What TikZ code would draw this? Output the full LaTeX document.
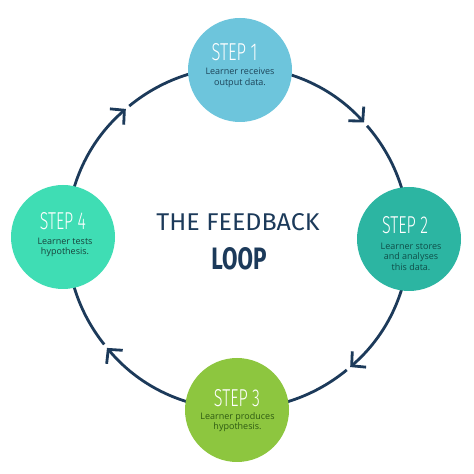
\documentclass[tikz,border=0pt]{standalone}
\usepackage{fontspec}
\usepackage{graphicx}
\setmainfont{Open Sans}
\newfontfamily\lightfont{Fira Sans Light}
\newfontfamily\regfont{Fira Sans}
\newfontfamily\heavyfont{Fira Sans Bold}
\usetikzlibrary{arrows.meta}
\definecolor{navy}{HTML}{1C3A5A}
\definecolor{cA}{HTML}{6DC5DC}
\definecolor{cB}{HTML}{2CB5A2}
\definecolor{cC}{HTML}{8DC63F}
\definecolor{cD}{HTML}{3FDDB4}
\definecolor{tA}{HTML}{1D4459}
\definecolor{tB}{HTML}{0F4E49}
\definecolor{tC}{HTML}{2E5A12}
\definecolor{tD}{HTML}{18433C}
\begin{document}
\begin{tikzpicture}[x=1pt,y=1pt,
  stepcircle/.style={circle, minimum size=104pt, inner sep=0pt},
  steplabel/.style={inner sep=0pt, text=white},
  desc/.style={inner sep=0pt, align=center, font=\fontsize{9}{10.6}\selectfont},
  titletext/.style={inner sep=0pt, text=navy},
  flow/.style={draw=navy, line width=2.8pt,
    -{Straight Barb[length=10pt,width=21pt,line join=miter]}}]
\fill[white] (0,0) rectangle (474,474);
\useasboundingbox (0,0) rectangle (474,474);
\coordinate (C) at (238,236);
% loop arcs (clockwise)
\draw[flow] (C) ++(129.5:171) arc[start angle=129.5, end angle=42.5, radius=171];
\draw[flow] (C) ++(41:171) arc[start angle=41, end angle=-49, radius=171];
\draw[flow] (C) ++(-50.5:171) arc[start angle=-50.5, end angle=-140, radius=171];
\draw[flow] (C) ++(-141.5:171) arc[start angle=-141.5, end angle=-229, radius=171];
% step circles
\node[stepcircle, fill=cA] (s1) at (240,404) {};
\node[stepcircle, fill=cB] (s2) at (409,235) {};
\node[stepcircle, fill=cC] (s3) at (237,64) {};
\node[stepcircle, fill=cD] (s4) at (63,237) {};
% step labels
\node[steplabel] (l1) at (234.5,422) {\resizebox{46pt}{17pt}{\lightfont STEP 1}};
\node[steplabel] (l2) at (405,249) {\resizebox{46pt}{17pt}{\lightfont STEP 2}};
\node[steplabel] (l3) at (237,76) {\resizebox{46pt}{17pt}{\lightfont STEP 3}};
\node[steplabel] (l4) at (63,253) {\resizebox{46pt}{17pt}{\lightfont STEP 4}};
% descriptions
\node[desc, text=tA] (d1) at (240,396) {Learner receives\\output data.};
\node[desc, text=tB] (d2) at (411,217.5) {Learner stores\\and analyses\\this data.};
\node[desc, text=tC] (d3) at (237.5,52) {Learner produces\\hypothesis.};
\node[desc, text=tD] (d4) at (65,226.5) {Learner tests\\hypothesis.};
% title
\node[titletext] (t1) at (238,252) {\resizebox{163pt}{17pt}{\regfont THE FEEDBACK}};
\node[titletext] (t2) at (239,215) {\resizebox{55pt}{22pt}{\heavyfont LOOP}};
\end{tikzpicture}
\end{document}
